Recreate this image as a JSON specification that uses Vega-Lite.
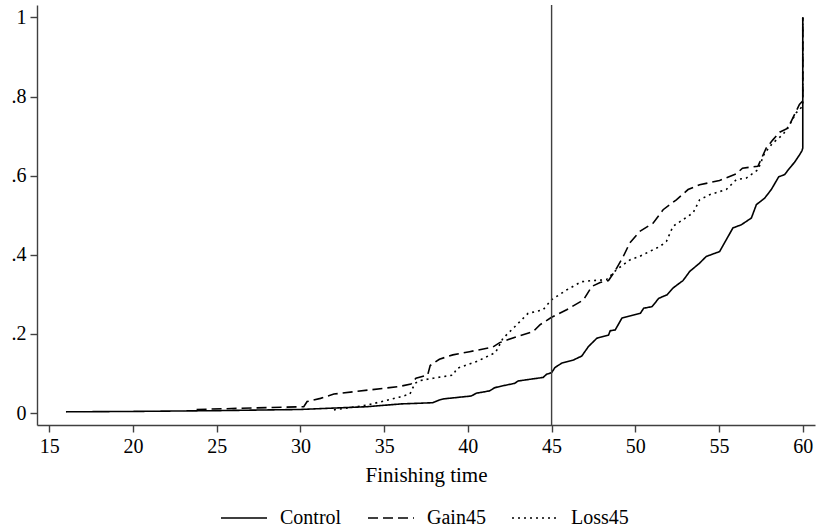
{
  "$schema": "https://vega.github.io/schema/vega-lite/v6.json",
  "width": 778,
  "height": 420,
  "autosize": "none",
  "padding": {"left": 37, "top": 5, "right": 1, "bottom": 106},
  "background": "white",
  "config": {
    "view": {"stroke": null},
    "font": "Liberation Serif",
    "axis": {
      "labelFont": "Liberation Serif",
      "titleFont": "Liberation Serif",
      "labelFontSize": 20,
      "titleFontSize": 21,
      "titleFontWeight": "normal",
      "labelColor": "black",
      "titleColor": "black",
      "domainColor": "#404040",
      "tickColor": "#404040",
      "domainWidth": 1.4,
      "tickWidth": 1.4,
      "tickSize": 7,
      "labelPadding": 4,
      "grid": false,
      "labelFlush": false,
      "labelOverlap": false
    },
    "legend": {
      "labelFont": "Liberation Serif",
      "labelFontSize": 20,
      "labelColor": "black",
      "padding": 0
    }
  },
  "data": {
    "values": [
      {"g": "Control", "t": 16, "p": 0.003},
      {"g": "Control", "t": 20, "p": 0.004},
      {"g": "Control", "t": 25, "p": 0.006},
      {"g": "Control", "t": 30, "p": 0.009},
      {"g": "Control", "t": 34, "p": 0.016},
      {"g": "Control", "t": 36, "p": 0.023},
      {"g": "Control", "t": 37.9, "p": 0.026},
      {"g": "Control", "t": 38.3, "p": 0.033},
      {"g": "Control", "t": 38.6, "p": 0.036},
      {"g": "Control", "t": 40.2, "p": 0.043},
      {"g": "Control", "t": 40.5, "p": 0.05},
      {"g": "Control", "t": 41.3, "p": 0.056},
      {"g": "Control", "t": 41.6, "p": 0.064},
      {"g": "Control", "t": 42.1, "p": 0.069},
      {"g": "Control", "t": 42.8, "p": 0.075},
      {"g": "Control", "t": 43.0, "p": 0.081},
      {"g": "Control", "t": 44.5, "p": 0.09},
      {"g": "Control", "t": 44.7, "p": 0.098},
      {"g": "Control", "t": 45.0, "p": 0.102},
      {"g": "Control", "t": 45.2, "p": 0.115},
      {"g": "Control", "t": 45.6, "p": 0.126},
      {"g": "Control", "t": 46.3, "p": 0.134},
      {"g": "Control", "t": 46.8, "p": 0.144},
      {"g": "Control", "t": 47.2, "p": 0.168},
      {"g": "Control", "t": 47.7, "p": 0.189},
      {"g": "Control", "t": 48.4, "p": 0.197},
      {"g": "Control", "t": 48.5, "p": 0.208},
      {"g": "Control", "t": 48.8, "p": 0.21},
      {"g": "Control", "t": 49.2, "p": 0.24},
      {"g": "Control", "t": 50.3, "p": 0.252},
      {"g": "Control", "t": 50.5, "p": 0.265},
      {"g": "Control", "t": 51.0, "p": 0.269},
      {"g": "Control", "t": 51.4, "p": 0.29},
      {"g": "Control", "t": 51.9, "p": 0.299},
      {"g": "Control", "t": 52.25, "p": 0.316},
      {"g": "Control", "t": 52.85, "p": 0.335},
      {"g": "Control", "t": 53.25, "p": 0.358},
      {"g": "Control", "t": 53.84, "p": 0.379},
      {"g": "Control", "t": 54.24, "p": 0.396},
      {"g": "Control", "t": 55.03, "p": 0.408},
      {"g": "Control", "t": 55.43, "p": 0.438},
      {"g": "Control", "t": 55.83, "p": 0.468},
      {"g": "Control", "t": 56.33, "p": 0.476},
      {"g": "Control", "t": 56.93, "p": 0.493},
      {"g": "Control", "t": 57.23, "p": 0.527},
      {"g": "Control", "t": 57.72, "p": 0.543},
      {"g": "Control", "t": 58.12, "p": 0.565},
      {"g": "Control", "t": 58.56, "p": 0.597},
      {"g": "Control", "t": 58.92, "p": 0.603},
      {"g": "Control", "t": 59.21, "p": 0.619},
      {"g": "Control", "t": 59.51, "p": 0.634},
      {"g": "Control", "t": 59.81, "p": 0.653},
      {"g": "Control", "t": 59.95, "p": 0.663},
      {"g": "Control", "t": 60, "p": 0.67},
      {"g": "Control", "t": 60, "p": 1},
      {"g": "Gain45", "t": 23.8, "p": 0.009},
      {"g": "Gain45", "t": 30.2, "p": 0.016},
      {"g": "Gain45", "t": 30.4, "p": 0.029},
      {"g": "Gain45", "t": 31.2, "p": 0.037},
      {"g": "Gain45", "t": 32.0, "p": 0.048},
      {"g": "Gain45", "t": 35.9, "p": 0.067},
      {"g": "Gain45", "t": 36.6, "p": 0.073},
      {"g": "Gain45", "t": 36.9, "p": 0.088},
      {"g": "Gain45", "t": 37.6, "p": 0.096},
      {"g": "Gain45", "t": 37.75, "p": 0.12},
      {"g": "Gain45", "t": 38.3, "p": 0.136},
      {"g": "Gain45", "t": 39.1, "p": 0.147},
      {"g": "Gain45", "t": 40.1, "p": 0.155},
      {"g": "Gain45", "t": 41.5, "p": 0.167},
      {"g": "Gain45", "t": 41.9, "p": 0.178},
      {"g": "Gain45", "t": 42.9, "p": 0.193},
      {"g": "Gain45", "t": 43.9, "p": 0.206},
      {"g": "Gain45", "t": 44.3, "p": 0.223},
      {"g": "Gain45", "t": 45.0, "p": 0.242},
      {"g": "Gain45", "t": 45.9, "p": 0.261},
      {"g": "Gain45", "t": 46.9, "p": 0.286},
      {"g": "Gain45", "t": 47.4, "p": 0.32},
      {"g": "Gain45", "t": 47.9, "p": 0.33},
      {"g": "Gain45", "t": 48.4, "p": 0.335},
      {"g": "Gain45", "t": 48.8, "p": 0.36},
      {"g": "Gain45", "t": 49.27, "p": 0.395},
      {"g": "Gain45", "t": 49.67, "p": 0.43},
      {"g": "Gain45", "t": 50.26, "p": 0.459},
      {"g": "Gain45", "t": 51.06, "p": 0.48},
      {"g": "Gain45", "t": 51.66, "p": 0.514},
      {"g": "Gain45", "t": 52.45, "p": 0.539},
      {"g": "Gain45", "t": 53.15, "p": 0.565},
      {"g": "Gain45", "t": 53.84, "p": 0.577},
      {"g": "Gain45", "t": 55.03, "p": 0.588},
      {"g": "Gain45", "t": 56.03, "p": 0.605},
      {"g": "Gain45", "t": 56.4, "p": 0.619},
      {"g": "Gain45", "t": 57.32, "p": 0.624},
      {"g": "Gain45", "t": 57.82, "p": 0.67},
      {"g": "Gain45", "t": 58.2, "p": 0.69},
      {"g": "Gain45", "t": 58.62, "p": 0.71},
      {"g": "Gain45", "t": 59.11, "p": 0.72},
      {"g": "Gain45", "t": 59.51, "p": 0.755},
      {"g": "Gain45", "t": 59.8, "p": 0.78},
      {"g": "Gain45", "t": 59.95, "p": 0.787},
      {"g": "Gain45", "t": 60, "p": 0.79},
      {"g": "Gain45", "t": 60, "p": 1},
      {"g": "Loss45", "t": 32.0, "p": 0.008},
      {"g": "Loss45", "t": 34.0, "p": 0.02},
      {"g": "Loss45", "t": 35.9, "p": 0.04},
      {"g": "Loss45", "t": 36.54, "p": 0.048},
      {"g": "Loss45", "t": 36.84, "p": 0.075},
      {"g": "Loss45", "t": 37.14, "p": 0.082},
      {"g": "Loss45", "t": 37.93, "p": 0.088},
      {"g": "Loss45", "t": 39.12, "p": 0.096},
      {"g": "Loss45", "t": 39.35, "p": 0.113},
      {"g": "Loss45", "t": 40.52, "p": 0.13},
      {"g": "Loss45", "t": 41.65, "p": 0.153},
      {"g": "Loss45", "t": 42.1, "p": 0.189},
      {"g": "Loss45", "t": 42.8, "p": 0.218},
      {"g": "Loss45", "t": 43.6, "p": 0.252},
      {"g": "Loss45", "t": 44.49, "p": 0.261},
      {"g": "Loss45", "t": 44.99, "p": 0.286},
      {"g": "Loss45", "t": 45.89, "p": 0.311},
      {"g": "Loss45", "t": 46.78, "p": 0.332},
      {"g": "Loss45", "t": 47.48, "p": 0.335},
      {"g": "Loss45", "t": 48.27, "p": 0.337},
      {"g": "Loss45", "t": 48.87, "p": 0.362},
      {"g": "Loss45", "t": 49.67, "p": 0.387},
      {"g": "Loss45", "t": 50.26, "p": 0.396},
      {"g": "Loss45", "t": 51.46, "p": 0.421},
      {"g": "Loss45", "t": 51.86, "p": 0.434},
      {"g": "Loss45", "t": 52.25, "p": 0.472},
      {"g": "Loss45", "t": 52.85, "p": 0.489},
      {"g": "Loss45", "t": 53.45, "p": 0.506},
      {"g": "Loss45", "t": 53.84, "p": 0.539},
      {"g": "Loss45", "t": 54.44, "p": 0.552},
      {"g": "Loss45", "t": 55.43, "p": 0.565},
      {"g": "Loss45", "t": 56.03, "p": 0.59},
      {"g": "Loss45", "t": 56.63, "p": 0.594},
      {"g": "Loss45", "t": 57.32, "p": 0.615},
      {"g": "Loss45", "t": 57.72, "p": 0.657},
      {"g": "Loss45", "t": 58.22, "p": 0.683},
      {"g": "Loss45", "t": 58.82, "p": 0.704},
      {"g": "Loss45", "t": 59.21, "p": 0.729},
      {"g": "Loss45", "t": 59.61, "p": 0.759},
      {"g": "Loss45", "t": 59.9, "p": 0.772},
      {"g": "Loss45", "t": 60, "p": 0.78},
      {"g": "Loss45", "t": 60, "p": 1}
    ]
  },
  "layer": [
    {
      "mark": {"type": "line", "color": "black", "strokeWidth": 1.6, "interpolate": "linear"},
      "encoding": {
        "x": {
          "field": "t", "type": "quantitative",
          "scale": {"domain": [14.27, 60.73], "nice": false, "zero": false},
          "axis": {"values": [15, 20, 25, 30, 35, 40, 45, 50, 55, 60], "title": "Finishing time", "titlePadding": 8}
        },
        "y": {
          "field": "p", "type": "quantitative",
          "scale": {"domain": [-0.0303, 1.0316], "nice": false, "zero": false},
          "axis": {
            "values": [0, 0.2, 0.4, 0.6, 0.8, 1],
            "title": null,
            "labelAngle": 0,
            "labelExpr": "datum.value == 0 ? '0' : datum.value == 1 ? '1' : '.' + format(datum.value * 10, 'd')"
          }
        },
        "strokeDash": {
          "field": "g", "type": "nominal",
          "scale": {"domain": ["Control", "Gain45", "Loss45"], "range": [[1, 0], [10, 5], [2, 4]]},
          "legend": {
            "title": null,
            "orient": "none",
            "direction": "horizontal",
            "legendX": 183,
            "legendY": 489,
            "symbolType": "stroke",
            "symbolSize": 2116,
            "symbolStrokeWidth": 1.5,
            "symbolStrokeColor": "black",
            "labelOffset": 12,
            "columnPadding": 23
          }
        },
        "order": {"field": "p", "type": "quantitative"}
      }
    },
    {
      "data": {"values": [{"t": 45}]},
      "mark": {"type": "rule", "color": "#404040", "strokeWidth": 1.4},
      "encoding": {"x": {"field": "t", "type": "quantitative"}}
    }
  ]
}
